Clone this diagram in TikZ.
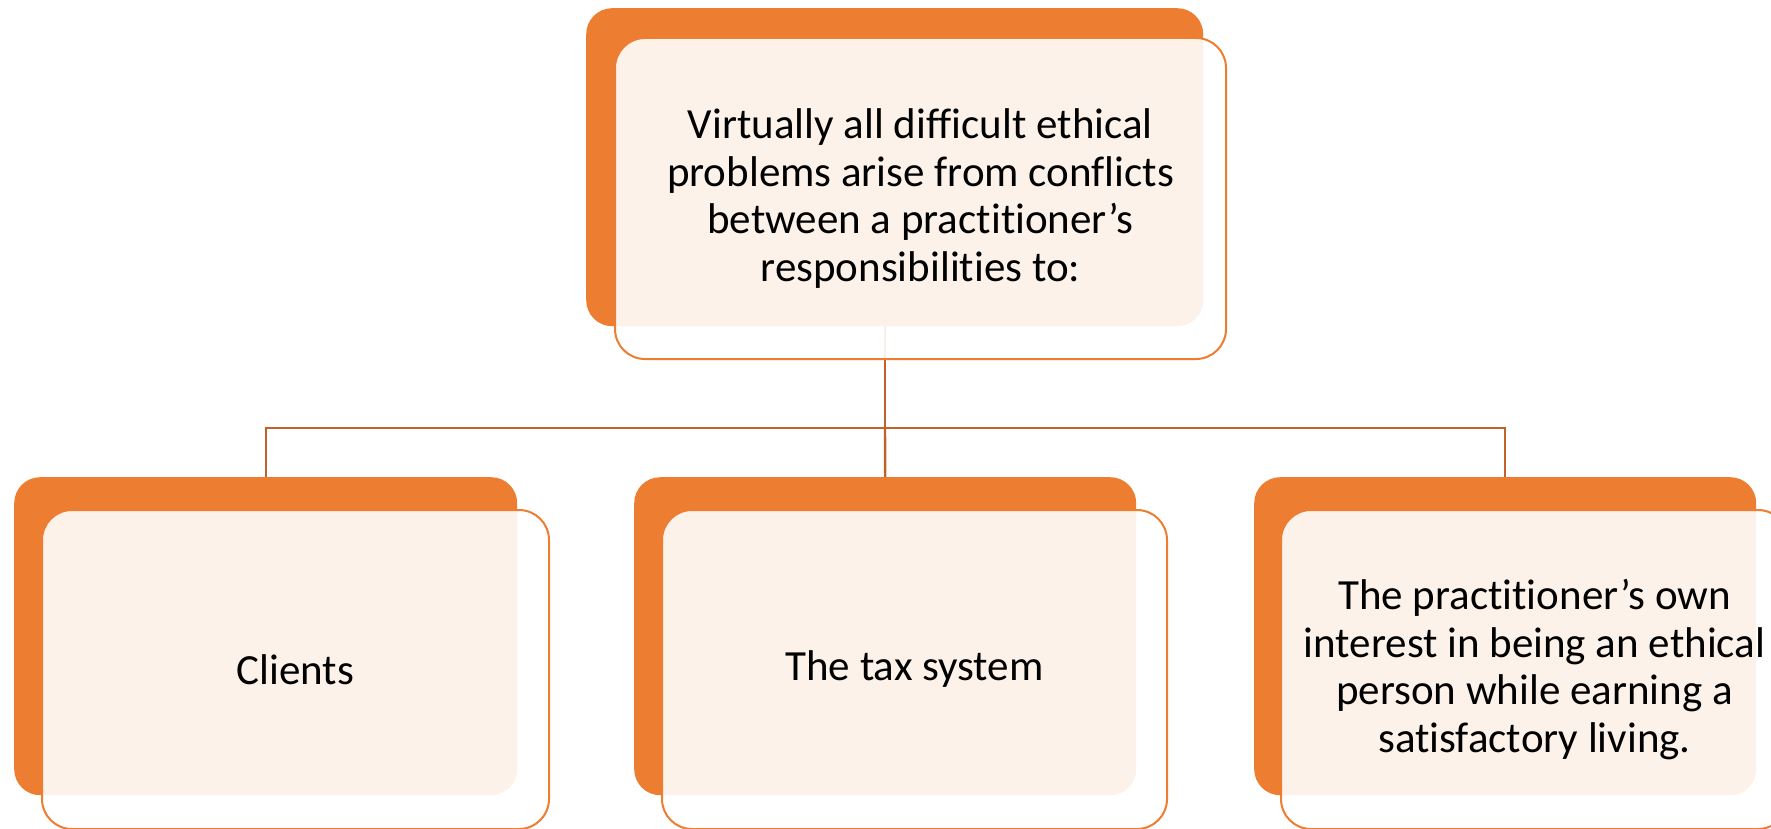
\documentclass[tikz,border=0pt]{standalone}
\usepackage{fontspec}
\setmainfont[Ligatures=CommonOff]{Carlito}
\begin{document}
\definecolor{accent}{HTML}{ED7D31}
\definecolor{linkc}{HTML}{C2622A}
\begin{tikzpicture}[x=1pt,y=-1pt,
  back/.style={draw=none,fill=accent,rounded corners=26pt,anchor=north west,inner sep=0pt},
  front/.style={draw=accent,line width=2pt,fill=white,fill opacity=0.9,text opacity=1,
    rounded corners=30pt,anchor=north west,inner sep=0pt,align=center,
    font=\fontsize{43}{47.5}\selectfont},
  conn/.style={draw=linkc,line width=2.4pt}]
\useasboundingbox (0,0) rectangle (1771,829);
\begin{scope}
\clip (0,0) rectangle (1771,829);
% orange back plates
\node[back,minimum width=617pt,minimum height=318pt] (topback) at (586,8) {};
\node[back,minimum width=503pt,minimum height=318pt] (b1back) at (14,477) {};
\node[back,minimum width=502pt,minimum height=318pt] (b2back) at (634,477) {};
\node[back,minimum width=502pt,minimum height=318pt] (b3back) at (1254,477) {};
% connectors
\coordinate (hub) at (885,428);
\draw[conn] (topback.south -| hub) -- (hub);
\draw[conn] (b1back.north) |- (hub) -| (b3back.north);
\draw[conn] (hub) -- (b2back.north);
% translucent front cards with text
\node[front,minimum width=611pt,minimum height=321pt] (top) at (614,37)
  {Virtually all difficult ethical\\problems arise from conflicts\\between a practitioner’s\\responsibilities to:};
\node[front,minimum width=507pt,minimum height=319pt] (b1) at (41,509) {Clients};
\node[front,minimum width=505pt,minimum height=319pt] (b2) at (661,509) {The tax system};
\node[front,minimum width=507pt,minimum height=319pt] (b3) at (1280,509)
  {The practitioner’s own\\interest in being an ethical\\person while earning a\\satisfactory living.};
\end{scope}
\end{tikzpicture}
\end{document}
